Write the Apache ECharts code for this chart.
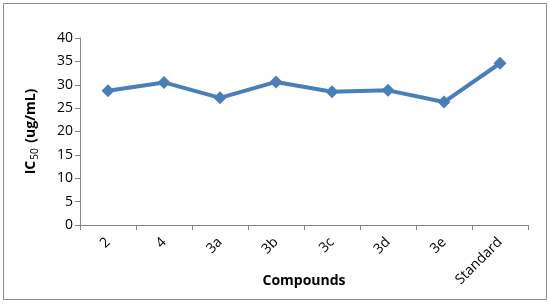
<!DOCTYPE html>
<html><head><meta charset="utf-8">
<script src="https://cdn.jsdelivr.net/npm/echarts@6/dist/echarts.min.js"></script>
<style>html,body{margin:0;padding:0;background:#fff}#c{width:550px;height:304px}</style>
</head><body><div id="c"></div>
<script>
var categories = ['2','4','3a','3b','3c','3d','3e','Standard'];
var ic50Values = [28.7, 30.5, 27.2, 30.6, 28.5, 28.8, 26.3, 34.6];
var yTicks = [0,5,10,15,20,25,30,35,40];

var chart = echarts.init(document.getElementById('c'), null, {renderer:'canvas'});
var font = '"Open Sans", "Liberation Sans", sans-serif';
chart.setOption({
  animation:false,
  backgroundColor:'#fff',
  graphic:[{type:'rect', shape:{x:3.5,y:3.5,width:543,height:296}, style:{fill:null, stroke:'#8c8c8c', lineWidth:1}, silent:true}],
  grid:{left:80, right:22, top:38, bottom:79, containLabel:false, outerBoundsMode:'none'},
  xAxis:{
    type:'category', data:categories, boundaryGap:true,
    name:'Compounds', nameLocation:'middle', nameGap:49, nameMoveOverlap:false,
    nameTextStyle:{fontFamily:font, fontWeight:'bold', fontSize:14, color:'#000'},
    axisLine:{lineStyle:{color:'#868686', width:1}},
    axisTick:{show:true, alignWithLabel:false, length:5, lineStyle:{color:'#868686'}},
    axisLabel:{rotate:45, fontFamily:font, fontSize:14, color:'#000', margin:15, interval:0}
  },
  yAxis:{
    type:'value', min:0, max:40, interval:5,
    name:'{b|IC}{s|50}{b| (ug/mL)}', nameLocation:'middle', nameGap:40, nameRotate:90, nameMoveOverlap:false,
    nameTextStyle:{rich:{
      b:{fontFamily:font, fontWeight:'bold', fontSize:14, color:'#000', lineHeight:18},
      s:{fontFamily:font, fontSize:10, color:'#000', verticalAlign:'bottom', lineHeight:18, padding:[0,2,0,1]}
    }},
    splitLine:{show:false},
    axisLine:{show:true, lineStyle:{color:'#868686', width:1}},
    axisTick:{show:true, length:5, lineStyle:{color:'#868686'}},
    axisLabel:{fontFamily:font, fontSize:14, color:'#000', margin:7,
      formatter:function(v){return yTicks.indexOf(v)>=0?String(v):'';}}
  },
  series:[{
    type:'line', data:ic50Values,
    symbol:'diamond', symbolSize:13,
    lineStyle:{color:'#4a7ebb', width:4},
    itemStyle:{color:'#4a7ebb'}
  }]
});
</script></body></html>
